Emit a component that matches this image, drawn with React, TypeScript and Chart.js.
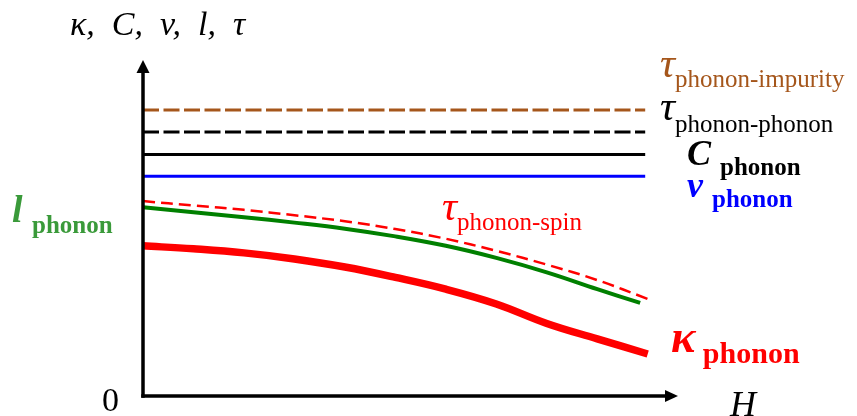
import { useEffect, useRef } from "react";
import { Chart, registerables } from "chart.js";

Chart.register(...registerables);

// Field axis (arbitrary units) and the schematic curves drawn against it
const fieldH = [0, 10, 20, 30, 40, 50, 60, 70, 80, 90, 100];
const fieldHGreen = [0, 10, 20, 30, 40, 50, 60, 70, 80, 90, 98.5];
const flatH = [0, 99.5];

const tauImpurity = [85.1, 85.1];
const tauPhonon = [78.6, 78.6];
const cPhonon = [71.9, 71.9];
const vPhonon = [65.4, 65.4];
const tauSpin = [58.0, 56.7, 55.4, 53.8, 52.0, 49.7, 46.8, 43.2, 39.1, 34.5, 28.9];
const lPhonon = [56.2, 54.7, 53.2, 51.6, 49.8, 47.5, 44.7, 41.1, 36.8, 31.8, 27.7];
const kappaPhonon = [44.7, 43.8, 42.6, 40.8, 38.4, 35.3, 31.8, 27.4, 21.6, 17.0, 12.5];

const SERIF = '"Liberation Serif", "Times New Roman", serif';
const RED = "#ff0000";
const GREEN_LINE = "#008000";
const GREEN_TEXT = "#3a9a3a";
const BROWN = "#a5561b";
const BLUE = "#0000ff";

type Run = { t: string; font: string; dy?: number };
type Label = { x: number; y: number; color: string; runs: Run[] };

// Curve annotations: a big symbol followed by its subscript
const labels: Label[] = [
  { x: 70, y: 35, color: "#000", runs: [{ t: "κ,  C,  v,  l,  τ", font: `italic 34px ${SERIF}` }] },
  {
    x: 660, y: 77, color: BROWN,
    runs: [{ t: "τ", font: `italic 42px ${SERIF}` }, { t: "phonon-impurity", font: `25px ${SERIF}`, dy: 10 }],
  },
  {
    x: 660, y: 120, color: "#000",
    runs: [{ t: "τ", font: `italic 42px ${SERIF}` }, { t: "phonon-phonon", font: `25px ${SERIF}`, dy: 12 }],
  },
  {
    x: 687, y: 165, color: "#000",
    runs: [{ t: "C ", font: `italic bold 36px ${SERIF}` }, { t: "phonon", font: `bold 25px ${SERIF}`, dy: 10 }],
  },
  {
    x: 687, y: 197, color: BLUE,
    runs: [{ t: "v ", font: `italic bold 36px ${SERIF}` }, { t: "phonon", font: `bold 25px ${SERIF}`, dy: 10 }],
  },
  {
    x: 12, y: 222, color: GREEN_TEXT,
    runs: [{ t: "l ", font: `italic bold 38px ${SERIF}` }, { t: "phonon", font: `bold 25px ${SERIF}`, dy: 11 }],
  },
  {
    x: 442, y: 220, color: RED,
    runs: [{ t: "τ", font: `italic 42px ${SERIF}` }, { t: "phonon-spin", font: `25px ${SERIF}`, dy: 10 }],
  },
  {
    x: 671, y: 352, color: RED,
    runs: [{ t: "κ", font: `italic bold 46px ${SERIF}` }, { t: " phonon", font: `bold 30px ${SERIF}`, dy: 11 }],
  },
  { x: 102, y: 411, color: "#000", runs: [{ t: "0", font: `34px ${SERIF}` }] },
  { x: 730, y: 416, color: "#000", runs: [{ t: "H", font: `italic 36px ${SERIF}` }] },
];

const pts = (xs: number[], ys: number[]) => xs.map((x, i) => ({ x, y: ys[i] }));

const axesAndLabels = {
  id: "axesAndLabels",
  afterDatasetsDraw(chart: Chart) {
    const { ctx, chartArea } = chart;
    const { left, right, top, bottom } = chartArea;
    ctx.save();
    ctx.strokeStyle = "#000";
    ctx.fillStyle = "#000";
    ctx.lineWidth = 3.5;
    // vertical axis
    ctx.beginPath();
    ctx.moveTo(left, bottom + 1.75);
    ctx.lineTo(left, top + 10);
    ctx.stroke();
    ctx.beginPath();
    ctx.moveTo(left, top);
    ctx.lineTo(left - 6.5, top + 13);
    ctx.lineTo(left + 6.5, top + 13);
    ctx.closePath();
    ctx.fill();
    // horizontal axis
    ctx.beginPath();
    ctx.moveTo(left - 1.75, bottom);
    ctx.lineTo(right - 10, bottom);
    ctx.stroke();
    ctx.beginPath();
    ctx.moveTo(right, bottom);
    ctx.lineTo(right - 13, bottom - 6);
    ctx.lineTo(right - 13, bottom + 6);
    ctx.closePath();
    ctx.fill();

    ctx.textBaseline = "alphabetic";
    ctx.textAlign = "left";
    for (const lab of labels) {
      let x = lab.x;
      ctx.fillStyle = lab.color;
      for (const r of lab.runs) {
        ctx.font = r.font;
        ctx.fillText(r.t, x, lab.y + (r.dy ?? 0));
        x += ctx.measureText(r.t).width;
      }
    }
    ctx.restore();
  },
};

export default function App() {
  const ref = useRef<HTMLCanvasElement | null>(null);

  useEffect(() => {
    if (!ref.current) return;
    const chart = new Chart(ref.current, {
      type: "line",
      data: {
        datasets: [
          { data: pts(flatH, tauImpurity), borderColor: BROWN, borderWidth: 3, borderDash: [16, 4.5] },
          { data: pts(flatH, tauPhonon), borderColor: "#000", borderWidth: 3, borderDash: [16, 4.5] },
          { data: pts(flatH, cPhonon), borderColor: "#000", borderWidth: 3 },
          { data: pts(flatH, vPhonon), borderColor: BLUE, borderWidth: 3 },
          { data: pts(fieldH, tauSpin), borderColor: RED, borderWidth: 2.5, borderDash: [12, 6], tension: 0.4 },
          { data: pts(fieldHGreen, lPhonon), borderColor: GREEN_LINE, borderWidth: 4, tension: 0.4 },
          { data: pts(fieldH, kappaPhonon), borderColor: RED, borderWidth: 7.5, tension: 0.4 },
        ],
      },
      options: {
        responsive: false,
        animation: false,
        devicePixelRatio: 1,
        layout: { padding: { left: 143, top: 60, right: 179, bottom: 20 } },
        elements: { point: { radius: 0 } },
        datasets: { line: { clip: false as any, fill: false } },
        plugins: { legend: { display: false }, tooltip: { enabled: false } },
        scales: {
          x: { type: "linear", min: 0, max: 106, display: false },
          y: { type: "linear", min: 0, max: 100, display: false },
        },
      },
      plugins: [axesAndLabels],
    });
    return () => chart.destroy();
  }, []);

  return (
    <div style={{ position: "fixed", left: 0, top: 0, width: 857, height: 416, background: "#fff" }}>
      <canvas ref={ref} width={857} height={416} />
    </div>
  );
}
